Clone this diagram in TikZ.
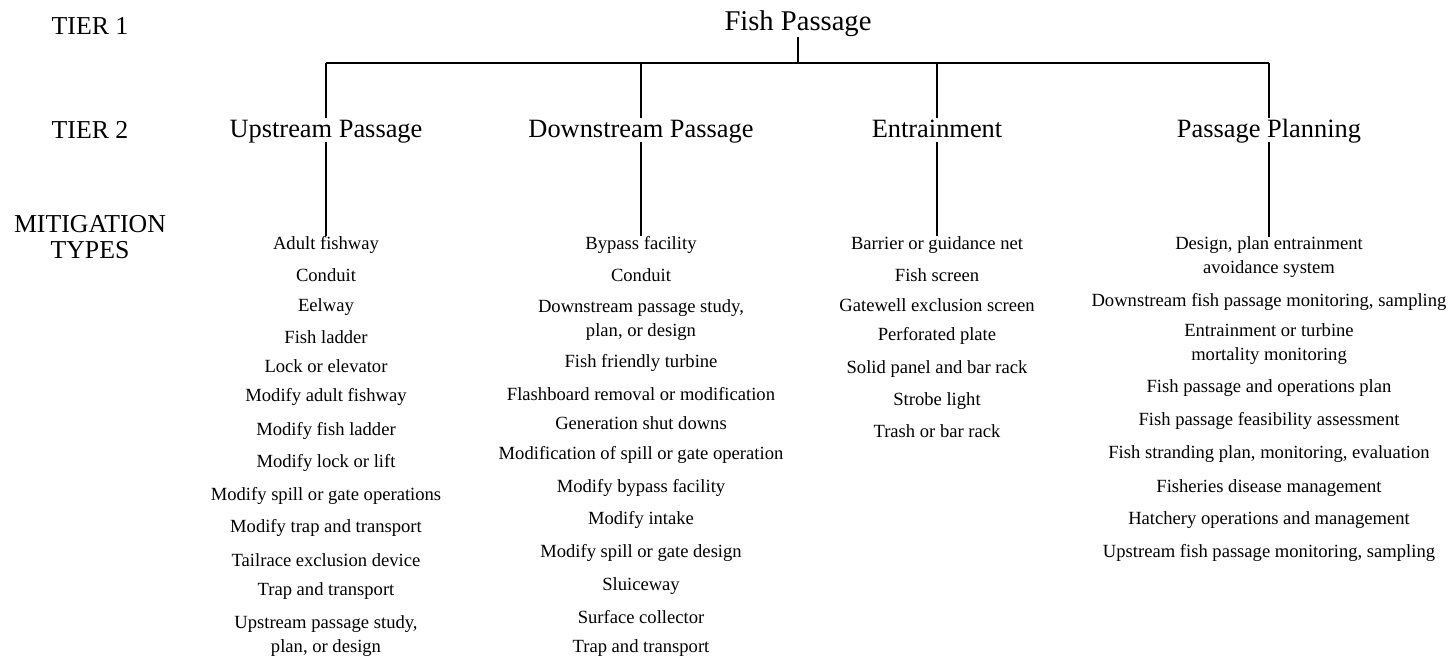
\documentclass[tikz,border=0pt]{standalone}
\usepackage{fontspec}
\setmainfont{Liberation Serif}
\usepackage{tikz}

\begin{document}
\begin{tikzpicture}%the tree of fish passage mitigation types
  [x=1pt,y=-1pt,line cap=butt,
   % Styles
   branch/.style={line width=1.6pt},
   tier label/.style={inner sep=0pt,anchor=base,align=center,
     font=\fontsize{25.8}{26}\selectfont},
   root text/.style={inner sep=0pt,anchor=base,text depth=7pt,
     font=\fontsize{28.6}{30}\selectfont},
   group text/.style={inner sep=0pt,anchor=base,text height=19pt,text depth=5pt,
     font=\fontsize{26.4}{30}\selectfont},
   item text/.style={inner sep=0pt,anchor=base,align=center,
     font=\fontsize{18.6}{24}\selectfont}]

  \useasboundingbox (0,0) rectangle (1450,657);

  % Row labels on the left (base = last line)
  \node[tier label] (tierone) at (90,34) {TIER 1};
  \node[tier label] (tiertwo) at (90,138) {TIER 2};
  \node[tier label] (mitig) at (90,258) {MITIGATION\\TYPES};

  % Tier 1 and tier 2
  \node[root text] (fish) at (798,30) {Fish Passage};
  \coordinate (bar) at (0,63);
  \node[group text] (up) at (326,137) {Upstream Passage};
  \node[group text] (down) at (641,137) {Downstream Passage};
  \node[group text] (entr) at (937,137) {Entrainment};
  \node[group text] (plan) at (1269,137) {Passage Planning};

  % Mitigation types, one column per tier 2 group
  \foreach \y/\itemtext [count=\i] in {249/Adult fishway, 281.7/Conduit,
      311/Eelway, 343/Fish ladder, 372.7/Lock or elevator,
      401.7/Modify adult fishway, 435/Modify fish ladder,
      467.7/Modify lock or lift, 500/Modify spill or gate operations,
      532.7/Modify trap and transport, 566/Tailrace exclusion device,
      595/Trap and transport, 652.7/{Upstream passage study,\\plan, or design}}
    \node[item text] (up\i) at (326,\y) {\itemtext};

  \foreach \y/\itemtext [count=\i] in {249/Bypass facility, 281.7/Conduit,
      336/{Downstream passage study,\\plan, or design},
      367.7/Fish friendly turbine, 400.3/Flashboard removal or modification,
      429.3/Generation shut downs, 459.3/Modification of spill or gate operation,
      492.7/Modify bypass facility, 524.3/Modify intake,
      557.7/Modify spill or gate design, 590.3/Sluiceway,
      623.3/Surface collector, 652.7/Trap and transport}
    \node[item text] (down\i) at (641,\y) {\itemtext};

  \foreach \y/\itemtext [count=\i] in {249/Barrier or guidance net,
      281.7/Fish screen, 311/Gatewell exclusion screen, 340/Perforated plate,
      373.3/Solid panel and bar rack, 405/Strobe light, 437.3/Trash or bar rack}
    \node[item text] (entr\i) at (937,\y) {\itemtext};

  \foreach \y/\itemtext [count=\i] in {
      273.7/{Design, plan entrainment\\avoidance system},
      306/{Downstream fish passage monitoring, sampling},
      360/{Entrainment or turbine\\mortality monitoring},
      392.7/Fish passage and operations plan,
      425.3/Fish passage feasibility assessment,
      458.7/{Fish stranding plan, monitoring, evaluation},
      492/Fisheries disease management,
      524.3/Hatchery operations and management,
      557.7/{Upstream fish passage monitoring, sampling}}
    \node[item text] (plan\i) at (1269,\y) {\itemtext};

  % Connectors
  \draw[branch] (fish.south) -- (fish.south |- bar);
  \draw[branch] (up.north |- bar) -- (plan.north |- bar);
  \foreach \grp in {up,down,entr,plan}
  {
    \draw[branch] (\grp.north |- bar) -- (\grp.north);
    \draw[branch] (\grp.south) -- (\grp1.north);
  }
\end{tikzpicture}
\end{document}
